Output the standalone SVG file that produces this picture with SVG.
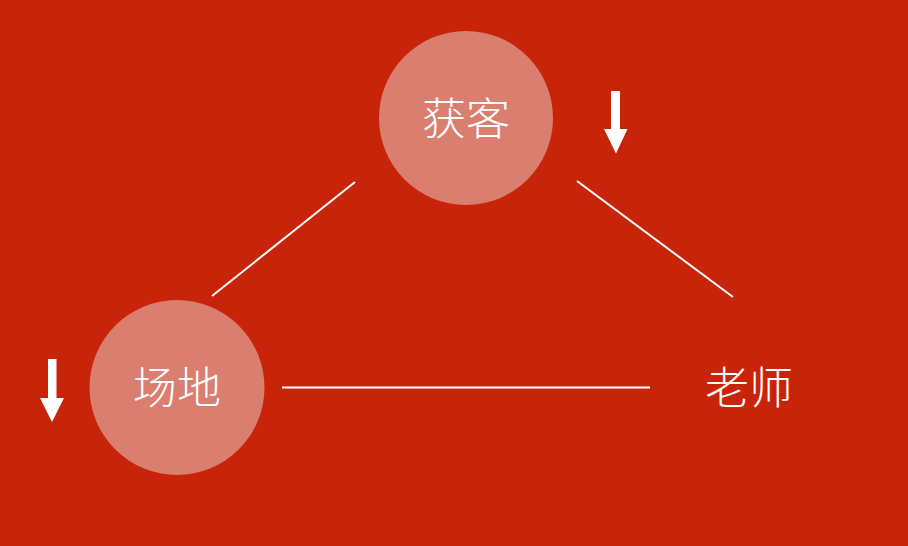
<svg xmlns="http://www.w3.org/2000/svg" width="908" height="546" viewBox="0 0 908 546">
<style>
.bg{fill:#C8240A}
.circ{fill:#DA7E70}
.lbl{font-family:"Noto Sans CJK SC","Noto Sans",sans-serif;font-size:44px;font-weight:300;fill:#FFFFFF;text-anchor:middle}
.conn{stroke:#FFFFFF;stroke-width:2;fill:none}
.arrow{fill:#FFFFFF}
</style>
<rect class="bg" x="0" y="0" width="908" height="546"/>
<g id="connectors">
<line class="conn" x1="355" y1="182" x2="212" y2="296"/>
<line class="conn" x1="577" y1="181" x2="733" y2="297"/>
<line class="conn" x1="282" y1="387.5" x2="650" y2="387.5"/>
</g>
<g id="node-huoke">
<circle class="circ" cx="466" cy="118" r="87"/>
<text class="lbl" x="466" y="135">获客</text>
</g>
<g id="node-changdi">
<circle class="circ" cx="177" cy="387.5" r="87.5"/>
<text class="lbl" x="177" y="404">场地</text>
</g>
<g id="node-laoshi">
<text class="lbl" x="749" y="404">老师</text>
</g>
<g id="arrow-top">
<polygon class="arrow" points="611,91 620,91 620,129 627.5,129 616,153.5 604,129 611,129"/>
</g>
<g id="arrow-left">
<polygon class="arrow" points="48,359 56.5,359 56.5,398 64,398 52,422 40,398 48,398"/>
</g>
</svg>
